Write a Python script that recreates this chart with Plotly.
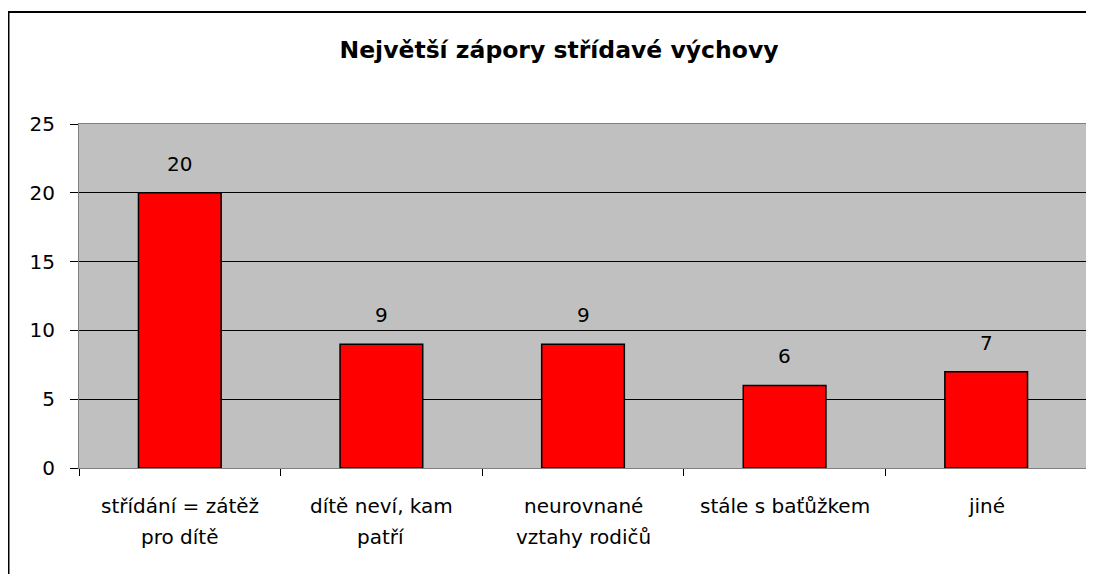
import plotly.graph_objects as go

categories = ["střídání = zátěž pro dítě", "dítě neví, kam patří", "neurovnané vztahy rodičů",
              "stále s baťůžkem", "jiné"]
label_line1 = ["střídání = zátěž", "dítě neví, kam", "neurovnané", "stále s baťůžkem", "jiné"]
label_line2 = ["pro dítě", "patří", "vztahy rodičů", "", ""]
values = [20, 9, 9, 6, 7]
y_ticks = [0, 5, 10, 15, 20, 25]
title_text = "Největší zápory střídavé výchovy"

FONT = "DejaVu Sans, Liberation Sans, Arial, sans-serif"
FS = 20

# the page body adds an 8px offset, so the figure is sized to end at the window edge
W, H = 1086, 566
ML, MR, MT, MB = 71, 7, 116, 106
PW, PH = W - ML - MR, H - MT - MB

fig = go.Figure()
fig.add_trace(go.Bar(
    x=categories, y=values,
    marker=dict(color="#FF0000", line=dict(color="#000000", width=1.5)),
    width=0.41,
    hoverinfo="x+y",
))

annotations = []
for c, v in zip(categories, values):
    annotations.append(dict(x=c, y=v, xref="x", yref="y", text=str(v), showarrow=False,
                            yanchor="middle", yshift=29,
                            font=dict(family=FONT, size=FS, color="#000000")))
for c, l1, l2 in zip(categories, label_line1, label_line2):
    annotations.append(dict(x=c, y=0, xref="x", yref="paper", text=l1, showarrow=False,
                            yanchor="middle", yshift=-38,
                            font=dict(family=FONT, size=FS, color="#000000")))
    if l2:
        annotations.append(dict(x=c, y=0, xref="x", yref="paper", text=l2, showarrow=False,
                                yanchor="middle", yshift=-69,
                                font=dict(family=FONT, size=FS, color="#000000")))

fig.update_layout(
    width=W, height=H,
    margin=dict(l=ML, r=MR, t=MT, b=MB, pad=0),
    paper_bgcolor="#FFFFFF",
    plot_bgcolor="#C0C0C0",
    showlegend=False,
    title=dict(text="<b>" + title_text + "</b>", x=551 / W, xanchor="center", y=1 - 42 / H,
               yanchor="middle", yref="container",
               font=dict(family=FONT, size=23.5, color="#000000")),
    xaxis=dict(type="category", tickson="boundaries", ticks="outside", ticklen=7,
               tickcolor="#000000", showticklabels=False, showgrid=False,
               showline=True, linecolor="#808080", linewidth=1, mirror=True, zeroline=False),
    yaxis=dict(range=[0, 25], tickvals=y_ticks, ticks="outside", ticklen=8, tickcolor="#000000",
               showgrid=True, gridcolor="#000000", gridwidth=1,
               showline=True, linecolor="#808080", linewidth=1, mirror=True, zeroline=False,
               ticklabelstandoff=11,
               tickfont=dict(family=FONT, size=FS, color="#000000")),
    annotations=annotations,
    shapes=[dict(type="rect", xref="paper", yref="paper",
                 x0=(0.5 - ML) / PW, x1=1.05, y0=-0.4, y1=(PH + MT - 4) / PH,
                 line=dict(color="#000000", width=2), fillcolor="rgba(0,0,0,0)", layer="above")],
)

fig.write_html("out.html")
